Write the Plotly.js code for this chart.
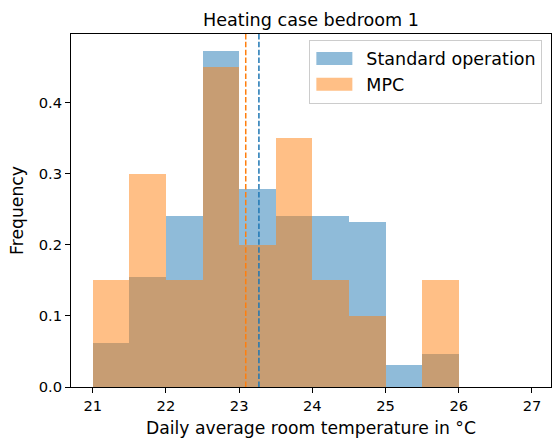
<!DOCTYPE html>
<html>
<head>
<meta charset="utf-8">
<script src="https://cdn.plot.ly/plotly-3.0.1.min.js"></script>
<style>html,body{margin:0;padding:0;background:#fff;}#chart{width:552px;height:439px;}</style>
</head>
<body>
<div id="chart"></div>
<script>
// Histogram bins (left edges, width 0.5 °C)
var binLeft = [21, 21.5, 22, 22.5, 23, 23.5, 24, 24.5, 25, 25.5];
var binWidth = 0.5;
// Density values
var standardOperation = [0.0615, 0.1545, 0.24, 0.473, 0.278, 0.24, 0.24, 0.232, 0.0305, 0.0465];
var mpc = [0.15, 0.30, 0.15, 0.45, 0.20, 0.35, 0.15, 0.10, 0.0, 0.15];
// Mean values (dashed lines)
var meanStandard = 23.27;
var meanMPC = 23.09;
var xTicks = [21, 22, 23, 24, 25, 26, 27];
var yTicks = [0, 0.1, 0.2, 0.3, 0.4];

var centers = binLeft.map(function (l) { return l + binWidth / 2; });
var widths = binLeft.map(function () { return binWidth; });

var font = "DejaVu Sans, sans-serif";

var traces = [
  {
    type: "bar", name: "Standard operation", x: centers, y: standardOperation, width: widths,
    marker: {color: "rgba(31,119,180,0.5)", line: {width: 0}}, hoverinfo: "x+y"
  },
  {
    type: "bar", name: "MPC", x: centers, y: mpc, width: widths,
    marker: {color: "rgba(255,127,14,0.5)", line: {width: 0}}, hoverinfo: "x+y"
  }
];

var layout = {
  width: 552, height: 439,
  margin: {l: 71, r: 1, t: 34, b: 52},
  paper_bgcolor: "#ffffff", plot_bgcolor: "#ffffff",
  barmode: "overlay", bargap: 0,
  font: {family: font, size: 14.7, color: "#000"},
  title: {text: "Heating case bedroom 1", font: {family: font, size: 17.6, color: "#000"},
          xref: "paper", x: 0.5, xanchor: "center", yref: "paper", y: 1, yanchor: "bottom", pad: {b: 8}},
  xaxis: {
    range: [20.703, 27.26], tickvals: xTicks, ticktext: xTicks.map(String),
    showgrid: false, zeroline: false, showline: true, mirror: true, linecolor: "#000", linewidth: 1,
    ticks: "outside", ticklen: 5, tickwidth: 1, tickcolor: "#000",
    tickfont: {family: font, size: 14.7, color: "#000"},
    title: {text: "Daily average room temperature in °C", font: {family: font, size: 17.2, color: "#000"}, standoff: 9}
  },
  yaxis: {
    range: [0, 0.4967], tickvals: yTicks, ticktext: yTicks.map(function (v) { return v.toFixed(1); }),
    showgrid: false, zeroline: false, showline: true, mirror: true, linecolor: "#000", linewidth: 1,
    ticks: "outside", ticklen: 5, tickwidth: 1, tickcolor: "#000",
    tickfont: {family: font, size: 14.7, color: "#000"},
    title: {text: "Frequency", font: {family: font, size: 17.2, color: "#000"}, standoff: 10}
  },
  legend: {
    x: 0.982, xanchor: "right", y: 0.984, yanchor: "top",
    bgcolor: "rgba(255,255,255,0.8)", bordercolor: "#cccccc", borderwidth: 1,
    font: {family: font, size: 17.5, color: "#000"}, itemwidth: 46, traceorder: "normal"
  },
  shapes: [
    {type: "line", xref: "x", yref: "paper", x0: meanStandard, x1: meanStandard, y0: 0, y1: 1,
     line: {color: "#1f77b4", width: 1.5, dash: "5.5px,2.4px"}},
    {type: "line", xref: "x", yref: "paper", x0: meanMPC, x1: meanMPC, y0: 0, y1: 1,
     line: {color: "#ff7f0e", width: 1.5, dash: "5.5px,2.4px"}}
  ]
};

Plotly.newPlot("chart", traces, layout, {displayModeBar: false, staticPlot: true}).then(function (gd) {
  // widen legend patches to resemble matplotlib's rectangular handles
  var paths = gd.querySelectorAll(".legend .legendpoints path");
  paths.forEach(function (p) { p.setAttribute("d", "M-22,6.5H14V-6.5H-22Z"); });
});
</script>
</body>
</html>
